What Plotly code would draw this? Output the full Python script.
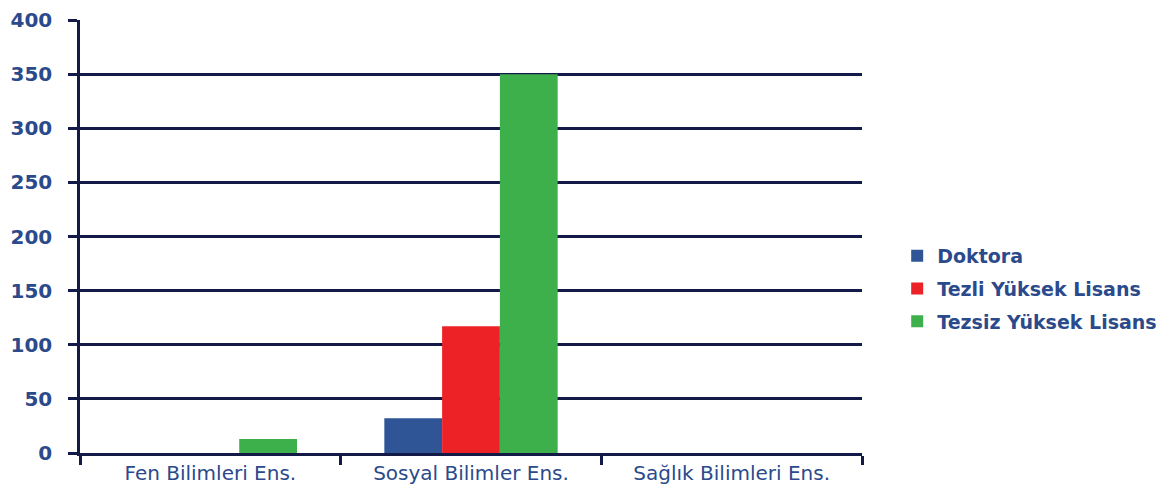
import plotly.graph_objects as go

categories = ["Fen Bilimleri Ens.", "Sosyal Bilimler Ens.", "Sağlık Bilimleri Ens."]
doktora = [0, 32, 0]
tezli = [0, 117, 0]
tezsiz = [13, 350, 0]
y_ticks = [0, 50, 100, 150, 200, 250, 300, 350, 400]

navy = "#141a48"
label_blue = "#2b4a8b"

fig = go.Figure()
fig.add_trace(go.Bar(name="Doktora", x=categories, y=doktora, legendgroup="a",
                     marker=dict(color="#2f5597", line=dict(width=0))))
fig.add_trace(go.Bar(name="Tezli Yüksek Lisans", x=categories, y=tezli, legendgroup="b",
                     marker=dict(color="#ec2227", line=dict(width=0))))
fig.add_trace(go.Bar(name="Tezsiz Yüksek Lisans", x=categories, y=tezsiz, legendgroup="c",
                     marker=dict(color="#3eb04b", line=dict(width=0))))

fig.update_layout(
    width=1166, height=485,
    margin=dict(l=72, r=305, t=12, b=40),
    paper_bgcolor="white", plot_bgcolor="white",
    barmode="group", bargap=0.335, bargroupgap=0,
    font=dict(family="DejaVu Sans, sans-serif", color=label_blue),
    legend=dict(x=1.045, y=0.379, xanchor="left", yanchor="middle",
                font=dict(size=19, color=label_blue, family="DejaVu Sans, sans-serif", weight="bold"),
                traceorder="grouped", tracegroupgap=5, bgcolor="rgba(0,0,0,0)"),
    showlegend=True,
)
fig.update_xaxes(
    showline=True, linecolor=navy, linewidth=2.5,
    ticks="outside", tickson="boundaries", ticklen=9, tickwidth=2.5, tickcolor=navy,
    tickfont=dict(size=20, color=label_blue),
    showgrid=False, automargin=False,
)
fig.update_yaxes(
    range=[0, 400], tickvals=y_ticks,
    showline=True, linecolor=navy, linewidth=2.5,
    showgrid=True, gridcolor=navy, gridwidth=2.5,
    ticks="outside", ticklen=9, tickwidth=2.5, tickcolor=navy,
    tickfont=dict(size=20, color=label_blue, weight="bold"),
    ticklabelstandoff=12,
    zeroline=False, automargin=False,
)
fig.write_html("out.html")
